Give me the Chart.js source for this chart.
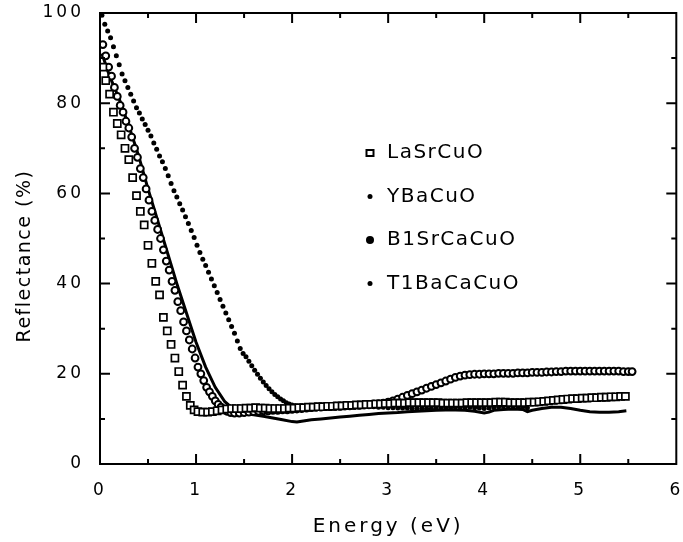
<!DOCTYPE html>
<html><head><meta charset="utf-8">
<script src="https://cdn.jsdelivr.net/npm/chart.js@4/dist/chart.umd.min.js"></script>
<style>html,body{margin:0;padding:0;background:#fff}#wrap{width:683px;height:542px}</style>
</head><body><div id="wrap"><canvas id="c" width="683" height="542"></canvas></div>
<script>
const seriesNames = ['LaSrCuO', 'YBaCuO', 'BiSrCaCuO', 'TlBaCaCuO'];
const legendNames = ['LaSrCuO', 'YBaCuO', 'B1SrCaCuO', 'T1BaCaCuO'];
const xTicks = [0, 1, 2, 3, 4, 5, 6];
const yTicks = [0, 20, 40, 60, 80, 100];
const xTitle = 'Energy (eV)';
const yTitle = 'Reflectance (%)';

// LaSrCuO (open squares)
const laSrCuO = [[0.03,88],[0.06,85],[0.10,82],[0.14,78],[0.18,75.5],[0.22,73],[0.26,70],[0.30,67.5],[0.34,63.5],[0.38,59.5],[0.42,56],[0.46,53],[0.50,48.5],[0.54,44.5],[0.58,40.5],[0.62,37.5],[0.66,32.5],[0.70,29.5],[0.74,26.5],[0.78,23.5],[0.82,20.5],[0.86,17.5],[0.90,15],[0.94,13],[0.98,12],
[1.02,11.6],[1.07,11.5],[1.12,11.5],[1.17,11.6],[1.22,11.8],[1.27,12.0],[1.32,12.2],[1.37,12.3],[1.42,12.3],[1.47,12.3],[1.52,12.4],[1.57,12.4],[1.62,12.5],[1.67,12.4],[1.72,12.4],[1.77,12.3],[1.82,12.3],[1.87,12.3],[1.92,12.3],[1.97,12.4],
[2.02,12.4],[2.07,12.5],[2.12,12.5],[2.17,12.6],[2.22,12.6],[2.27,12.7],[2.32,12.7],[2.37,12.8],[2.42,12.8],[2.47,12.9],[2.52,12.9],[2.57,13.0],[2.62,13.0],[2.67,13.1],[2.72,13.1],[2.77,13.2],[2.82,13.2],[2.87,13.3],[2.92,13.3],[2.97,13.4],
[3.02,13.4],[3.07,13.5],[3.12,13.5],[3.17,13.5],[3.22,13.6],[3.27,13.6],[3.32,13.6],[3.37,13.6],[3.42,13.6],[3.47,13.6],[3.52,13.6],[3.57,13.5],[3.62,13.5],[3.67,13.5],[3.72,13.5],[3.77,13.5],[3.82,13.6],[3.87,13.6],[3.92,13.6],[3.97,13.6],
[4.02,13.6],[4.07,13.6],[4.12,13.7],[4.17,13.7],[4.22,13.7],[4.27,13.6],[4.32,13.6],[4.37,13.6],[4.42,13.6],[4.47,13.7],[4.52,13.7],[4.57,13.8],[4.62,13.9],[4.67,14.0],[4.72,14.1],[4.77,14.2],[4.82,14.3],[4.87,14.4],[4.92,14.5],[4.97,14.5],
[5.02,14.6],[5.07,14.6],[5.12,14.7],[5.17,14.7],[5.22,14.8],[5.27,14.8],[5.32,14.9],[5.37,14.9],[5.42,15.0],[5.47,15.0]];

// YBaCuO (dense small dots, appears as a solid curve)
const yBaCuO = [[0.02,91],[0.1,86],[0.2,81],[0.3,75],[0.4,68.5],[0.5,61],[0.6,54],[0.7,47],[0.8,40],[0.9,33.5],[1.0,27],[1.1,21.5],[1.2,17],[1.3,13.8],[1.4,12],[1.5,11.2],[1.6,10.9],[1.7,10.6],[1.8,10.2],[1.9,9.8],[2.0,9.4],[2.05,9.3],[2.1,9.5],[2.2,9.8],[2.3,10.0],[2.4,10.2],[2.5,10.4],[2.6,10.6],[2.7,10.8],[2.8,11.0],[2.9,11.2],[3.0,11.3],[3.1,11.4],[3.2,11.6],[3.3,11.7],[3.4,11.8],[3.5,11.9],[3.6,12.0],[3.7,12.0],[3.8,11.9],[3.9,11.7],[4.0,11.3],[4.05,11.5],[4.1,11.9],[4.2,12.1],[4.3,12.2],[4.4,12.1],[4.45,11.6],[4.5,11.9],[4.6,12.3],[4.7,12.6],[4.8,12.6],[4.9,12.3],[5.0,11.9],[5.1,11.6],[5.2,11.5],[5.3,11.5],[5.4,11.6],[5.48,11.8]];

// BiSrCaCuO (bold open circles)
const biSrCaCuO = [[0.03,93],[0.06,90.5],[0.09,88],[0.12,86],[0.15,83.5],[0.18,81.5],[0.21,79.5],[0.24,78],[0.27,76],[0.30,74.5],[0.33,72.5],[0.36,70],[0.39,68],[0.42,65.5],[0.45,63.5],[0.48,61],[0.51,58.5],[0.54,56],[0.57,54],[0.60,52],[0.63,50],[0.66,47.5],[0.69,45],[0.72,43],[0.75,40.5],[0.78,38.5],[0.81,36],[0.84,34],[0.87,31.5],[0.90,29.5],[0.93,27.5],[0.96,25.5],[0.99,23.5],[1.02,21.5],[1.05,20],[1.08,18.5],[1.11,17],[1.14,16],[1.17,15],[1.20,14],[1.23,13.2],[1.26,12.6],[1.29,12.1],[1.32,11.7],[1.36,11.4],[1.40,11.3],
[1.45,11.3],[1.50,11.4],[1.55,11.5],[1.60,11.6],[1.65,11.7],[1.70,11.8],[1.75,11.8],[1.80,11.9],[1.85,11.9],[1.90,12.0],[1.95,12.0],[2.00,12.1],[2.05,12.2],[2.10,12.3],[2.15,12.4],[2.20,12.5],[2.25,12.6],[2.30,12.6],[2.35,12.7],[2.40,12.7],[2.45,12.8],[2.50,12.8],[2.55,12.9],[2.60,12.9],[2.65,13.0],[2.70,13.0],[2.75,13.1],[2.80,13.2],[2.85,13.3],[2.90,13.4],[2.95,13.5],
[3.00,13.7],[3.05,14.0],[3.10,14.4],[3.15,14.8],[3.20,15.2],[3.25,15.6],[3.30,16.0],[3.35,16.4],[3.40,16.8],[3.45,17.2],[3.50,17.6],[3.55,18.0],[3.60,18.4],[3.65,18.8],[3.70,19.2],[3.75,19.5],[3.80,19.7],[3.85,19.8],[3.90,19.9],[3.95,19.9],
[4.00,20.0],[4.05,20.0],[4.10,20.0],[4.15,20.1],[4.20,20.1],[4.25,20.1],[4.30,20.1],[4.35,20.2],[4.40,20.2],[4.45,20.2],[4.50,20.3],[4.55,20.3],[4.60,20.3],[4.65,20.4],[4.70,20.4],[4.75,20.5],[4.80,20.5],[4.85,20.6],[4.90,20.6],[4.95,20.6],
[5.00,20.6],[5.05,20.6],[5.10,20.6],[5.15,20.6],[5.20,20.6],[5.25,20.6],[5.30,20.6],[5.35,20.6],[5.40,20.6],[5.45,20.5],[5.50,20.5],[5.54,20.5]];

// TlBaCaCuO (small filled dots)
const tlBaCaCuO = [[0.02,99.5],[0.05,97.5],[0.08,96],[0.11,94.5],[0.14,92.5],[0.17,90.5],[0.20,88.5],[0.23,86.5],[0.26,85],[0.29,83.5],[0.32,82],[0.35,80.5],[0.38,79],[0.41,77.8],[0.44,76.5],[0.47,75.3],[0.50,74],[0.53,72.7],[0.56,71.2],[0.59,69.8],[0.62,68.3],[0.65,67],[0.68,65.5],[0.71,63.9],[0.74,62.2],[0.77,60.6],[0.80,59.2],[0.83,57.7],[0.86,56.3],[0.89,54.8],[0.92,53.3],[0.95,51.8],[0.98,50.2],
[1.01,48.5],[1.04,46.9],[1.07,45.4],[1.10,44],[1.13,42.5],[1.16,41],[1.19,39.5],[1.22,38],[1.25,36.5],[1.28,35],[1.31,33.5],[1.34,32],[1.37,30.5],[1.40,29],[1.43,27.3],[1.46,25.6],[1.49,24.5],[1.52,23.8],[1.55,22.8],[1.58,21.8],[1.61,20.8],[1.64,19.9],[1.67,19],[1.70,18.2],[1.73,17.4],[1.76,16.7],[1.79,16],[1.82,15.4],[1.85,14.9],[1.88,14.4],[1.91,14],[1.94,13.6],[1.97,13.3],
[2.00,13.1],[2.03,12.9],[2.06,12.8],[2.09,12.7],[2.12,12.7],[2.16,12.6],[2.20,12.6],[2.25,12.6],[2.30,12.6],[2.35,12.7],[2.40,12.7],[2.45,12.7],[2.50,12.8],[2.55,12.8],[2.60,12.8],[2.65,12.8],[2.70,12.8],[2.75,12.8],[2.80,12.7],[2.85,12.7],[2.90,12.6],[2.95,12.6],
[3.00,12.5],[3.05,12.5],[3.10,12.4],[3.15,12.4],[3.20,12.4],[3.25,12.3],[3.30,12.3],[3.35,12.3],[3.40,12.3],[3.45,12.3],[3.50,12.4],[3.55,12.4],[3.60,12.5],[3.65,12.5],[3.70,12.6],[3.75,12.6],[3.80,12.6],[3.85,12.6],[3.90,12.5],[3.95,12.4],
[4.00,12.3],[4.05,12.4],[4.10,12.6],[4.15,12.7],[4.20,12.8],[4.25,12.8],[4.30,12.8],[4.35,12.7],[4.40,12.6],[4.45,12.5]];

const FONT = 'DejaVu Sans';
const toXY = arr => arr.map(p => ({x: p[0], y: p[1]}));

const styles = [
  {pointStyle:'rect', pointRadius:5, pointBorderWidth:1.7, pointBackgroundColor:'#fff', showLine:false, order:1},
  {pointRadius:0, showLine:true, borderWidth:3, order:4},
  {pointStyle:'circle', pointRadius:3.4, pointBorderWidth:2, pointBackgroundColor:'#fff', showLine:false, order:2},
  {pointStyle:'circle', pointRadius:2.5, pointBorderWidth:0, pointBackgroundColor:'#000', showLine:false, order:3}
];
const seriesData = [laSrCuO, yBaCuO, biSrCaCuO, tlBaCaCuO];

const framePlugin = {
  id: 'frame',
  beforeDraw(chart) {
    chart.ctx.letterSpacing = '3px';
  },
  afterDatasetsDraw(chart) {
    const {ctx, chartArea: a, scales: {x, y}} = chart;
    ctx.save();
    ctx.strokeStyle = '#000';
    ctx.lineWidth = 2;
    ctx.strokeRect(a.left, a.top, a.right - a.left, a.bottom - a.top);
    ctx.beginPath();
    const xs = [];
    xTicks.forEach((v, i) => { xs.push([v, 10]); if (i < xTicks.length - 1) xs.push([(v + xTicks[i + 1]) / 2, 5]); });
    xs.forEach(([v, len]) => {
      const px = x.getPixelForValue(v);
      if (px <= a.left + 1 || px >= a.right - 1) return;
      ctx.moveTo(px, a.bottom); ctx.lineTo(px, a.bottom - len);
      ctx.moveTo(px, a.top); ctx.lineTo(px, a.top + len);
    });
    const ys = [];
    yTicks.forEach((v, i) => { ys.push([v, 10]); if (i < yTicks.length - 1) ys.push([(v + yTicks[i + 1]) / 2, 5]); });
    ys.forEach(([v, len]) => {
      const py = y.getPixelForValue(v);
      if (py <= a.top + 1 || py >= a.bottom - 1) return;
      ctx.moveTo(a.left, py); ctx.lineTo(a.left + len, py);
      ctx.moveTo(a.right, py); ctx.lineTo(a.right - len, py);
    });
    ctx.stroke();
    ctx.restore();
  },
  afterDraw(chart) {
    const ctx = chart.ctx;
    // y-axis title (placed slightly below the plot centre, as in the reference)
    ctx.save();
    ctx.letterSpacing = '1.5px';
    ctx.font = '19px "' + FONT + '"';
    ctx.fillStyle = '#000';
    ctx.textAlign = 'center';
    ctx.textBaseline = 'middle';
    ctx.translate(25, 256);
    ctx.rotate(-Math.PI / 2);
    ctx.fillText(yTitle, 0, 0);
    ctx.restore();
    // legend
    ctx.save();
    ctx.letterSpacing = '1.5px';
    ctx.font = '20px "' + FONT + '"';
    ctx.fillStyle = '#000';
    ctx.textBaseline = 'middle';
    ctx.textAlign = 'left';
    const mx = 370, tx = 387, y0 = 153, dy = 43.5;
    legendNames.forEach((name, i) => {
      const cy = y0 + i * dy;
      ctx.fillText(name, tx, cy);
      ctx.lineWidth = 2;
      ctx.strokeStyle = '#000';
      if (i === 0) {
        ctx.fillStyle = '#fff';
        ctx.fillRect(mx - 3.5, cy - 3, 7, 6);
        ctx.strokeRect(mx - 3.5, cy - 3, 7, 6);
        ctx.fillStyle = '#000';
      } else {
        const r = i === 2 ? 4 : 2.5;
        ctx.beginPath(); ctx.arc(mx, cy, r, 0, Math.PI * 2); ctx.fill();
      }
    });
    ctx.restore();
  }
};

new Chart(document.getElementById('c'), {
  type: 'scatter',
  data: {
    datasets: seriesData.map((d, i) => Object.assign({
      label: seriesNames[i],
      data: toXY(d),
      borderColor: '#000',
      pointBorderColor: '#000',
      backgroundColor: '#000',
      tension: 0
    }, styles[i]))
  },
  options: {
    responsive: false,
    animation: false,
    devicePixelRatio: 1,
    events: [],
    layout: {padding: {top: 13, right: 4, left: 0, bottom: 0}},
    plugins: {legend: {display: false}, tooltip: {enabled: false}},
    scales: {
      x: {
        type: 'linear', min: 0, max: 6,
        afterBuildTicks: s => { s.ticks = xTicks.map(v => ({value: v})); },
        afterFit: s => { s.height = 78; s.paddingLeft = 0; s.paddingRight = 0; },
        grid: {display: false, drawTicks: false},
        border: {display: false},
        ticks: {color: '#000', padding: 16, maxRotation: 0, autoSkip: false, font: {family: FONT, size: 17}},
        title: {display: true, text: xTitle, color: '#000', font: {family: FONT, size: 20}, padding: {top: 0, bottom: 3}}
      },
      y: {
        type: 'linear', min: 0, max: 100,
        afterBuildTicks: s => { s.ticks = yTicks.map(v => ({value: v})); },
        afterFit: s => { s.width = 100; s.paddingTop = 0; s.paddingBottom = 0; },
        grid: {display: false, drawTicks: false},
        border: {display: false},
        ticks: {color: '#000', padding: 16, autoSkip: false, font: {family: FONT, size: 17}},
        title: {display: false, text: yTitle}
      }
    }
  },
  plugins: [framePlugin]
});
</script>
</body></html>
